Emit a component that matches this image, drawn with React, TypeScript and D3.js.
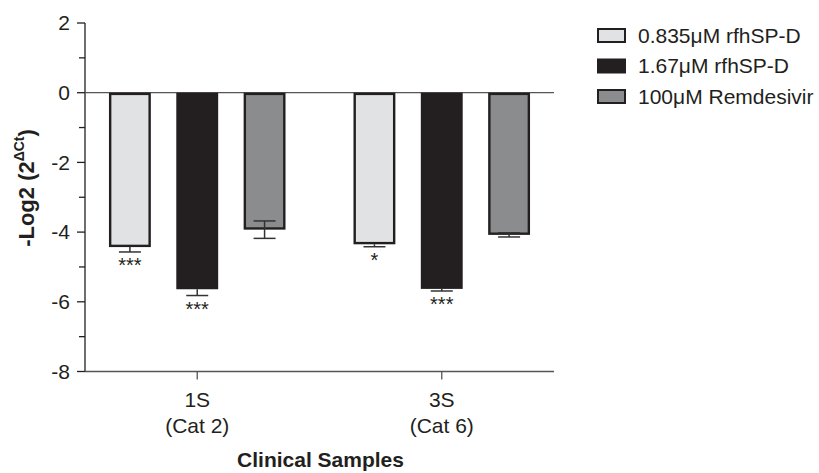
import React from "react";
import * as d3 from "d3";

const categories = ["1S", "3S"];
const categorySub = ["(Cat 2)", "(Cat 6)"];
const seriesNames = ["0.835\u03bcM rfhSP-D", "1.67\u03bcM rfhSP-D", "100\u03bcM Remdesivir"];
const seriesFill = ["#e1e2e4", "#231f20", "#8b8c8e"];
// values per series, in category order
const values0835 = [-4.43, -4.35];
const values167 = [-5.64, -5.63];
const valuesRemdesivir = [-3.93, -4.08];
const err0835 = [0.14, 0.07];
const err167 = [0.18, 0.06];
const errRemdesivir = [0.25, 0.06];
const sig0835 = ["***", "*"];
const sig167 = ["***", "***"];
const sigRemdesivir = ["", ""];
const yTicksMajor = [2, 0, -2, -4, -6, -8];
const yTicksMinor = [1, -1, -3, -5, -7];

const seriesValues = [values0835, values167, valuesRemdesivir];
const seriesErr = [err0835, err167, errRemdesivir];
const seriesSig = [sig0835, sig167, sigRemdesivir];

const W = 819;
const H = 473;
const left = 85;
const right = 554;
const top = 23;
const bottom = 371.5;
const font = "'Liberation Sans', Arial, Helvetica, sans-serif";
const ink = "#231f20";

export default function App() {
  const y = d3.scaleLinear().domain([-8, 2]).range([bottom, top]);
  const x0 = d3.scaleBand<string>().domain(categories).range([left, right]).paddingInner(0.2).paddingOuter(0.059);
  const x1 = d3
    .scaleBand<number>()
    .domain([0, 1, 2])
    .range([-101, 101])
    .paddingInner(0.378)
    .paddingOuter(0.189);
  const center = (c: string) => (x0(c) as number) + x0.bandwidth() / 2;
  const bw = x1.bandwidth();

  return (
    <svg width={W} height={H} style={{ position: "absolute", left: 0, top: 0, background: "#fff" }} fontFamily={font}>
      {/* y axis */}
      <line x1={left} x2={left} y1={top} y2={bottom} stroke={ink} strokeWidth={1.3} />
      {yTicksMajor.map((t) => (
        <g key={"M" + t}>
          <line x1={left - 8} x2={left} y1={y(t)} y2={y(t)} stroke={ink} strokeWidth={1.3} />
          <text x={left - 15} y={y(t)} dy="0.35em" textAnchor="end" fontSize={21} fill={ink}>
            {t}
          </text>
        </g>
      ))}
      {yTicksMinor.map((t) => (
        <line key={"m" + t} x1={left - 6} x2={left} y1={y(t)} y2={y(t)} stroke={ink} strokeWidth={1.3} />
      ))}
      {/* bottom axis */}
      <line x1={left} x2={right} y1={bottom} y2={bottom} stroke="#555" strokeWidth={1.3} />
      {categories.map((c, i) => (
        <g key={c}>
          <line x1={center(c)} x2={center(c)} y1={bottom} y2={bottom + 8} stroke="#555" strokeWidth={1.3} />
          <text x={center(c)} y={407} textAnchor="middle" fontSize={21} fill={ink}>
            {c}
          </text>
          <text x={center(c)} y={433} textAnchor="middle" fontSize={21} fill={ink}>
            {categorySub[i]}
          </text>
        </g>
      ))}
      <text x={(left + right) / 2 + 1} y={467} textAnchor="middle" fontSize={21} fontWeight="bold" fill={ink}>
        Clinical Samples
      </text>
      {/* y label */}
      <text
        transform={`translate(34, 188) rotate(-90)`}
        textAnchor="middle"
        fontSize={22}
        fontWeight="bold"
        fill={ink}
      >
        -Log2 (2
        <tspan fontSize={14} dy="-10">
          {"\u0394Ct"}
        </tspan>
        <tspan dy="10">)</tspan>
      </text>
      {/* zero line */}
      <line x1={left} x2={right} y1={y(0)} y2={y(0)} stroke="#555" strokeWidth={1.3} />
      {/* bars */}
      {seriesValues.map((vals, s) =>
        categories.map((c, i) => {
          const bx = center(c) + (x1(s) as number);
          const v = vals[i];
          const outlined = s !== 1;
          return (
            <rect
              key={`b${s}-${i}`}
              x={outlined ? bx + 1.2 : bx}
              y={y(0) + (outlined ? 1.2 : 0)}
              width={outlined ? bw - 2.4 : bw}
              height={y(v) - y(0) - (outlined ? 2.4 : 0)}
              fill={seriesFill[s]}
              stroke={outlined ? ink : "none"}
              strokeWidth={2.4}
            />
          );
        })
      )}
      {/* error bars */}
      {seriesValues.map((vals, s) =>
        categories.map((c, i) => {
          const cx = center(c) + (x1(s) as number) + bw / 2;
          const v = vals[i];
          const e = seriesErr[s][i];
          const lo = y(v - e);
          const hi = s === 2 ? y(v + e) : y(v);
          return (
            <g key={`e${s}-${i}`} stroke="#333" strokeWidth={1.5}>
              <line x1={cx} x2={cx} y1={hi} y2={lo} />
              <line x1={cx - 11} x2={cx + 11} y1={lo} y2={lo} />
              {s === 2 && <line x1={cx - 11} x2={cx + 11} y1={hi} y2={hi} />}
            </g>
          );
        })
      )}
      {/* significance */}
      {seriesSig.map((sigs, s) =>
        categories.map((c, i) => {
          if (!sigs[i]) return null;
          const cx = center(c) + (x1(s) as number) + bw / 2;
          const lo = y(seriesValues[s][i] - seriesErr[s][i]);
          return (
            <text key={`s${s}-${i}`} x={cx} y={lo + 20} textAnchor="middle" fontSize={20} fill={ink}>
              {sigs[i]}
            </text>
          );
        })
      )}
      {/* legend */}
      {seriesNames.map((n, s) => {
        const ly = 35.5 + s * 30.5;
        const outlined = s !== 1;
        return (
          <g key={n}>
            <rect
              x={outlined ? 598 : 597}
              y={ly - 7.5 + (outlined ? 1 : 0)}
              width={outlined ? 27 : 29}
              height={outlined ? 13 : 15}
              fill={seriesFill[s]}
              stroke={outlined ? ink : "none"}
              strokeWidth={2}
            />
            <text x={638} y={ly} dy="0.35em" fontSize={21} fill={ink}>
              {n}
            </text>
          </g>
        );
      })}
    </svg>
  );
}
